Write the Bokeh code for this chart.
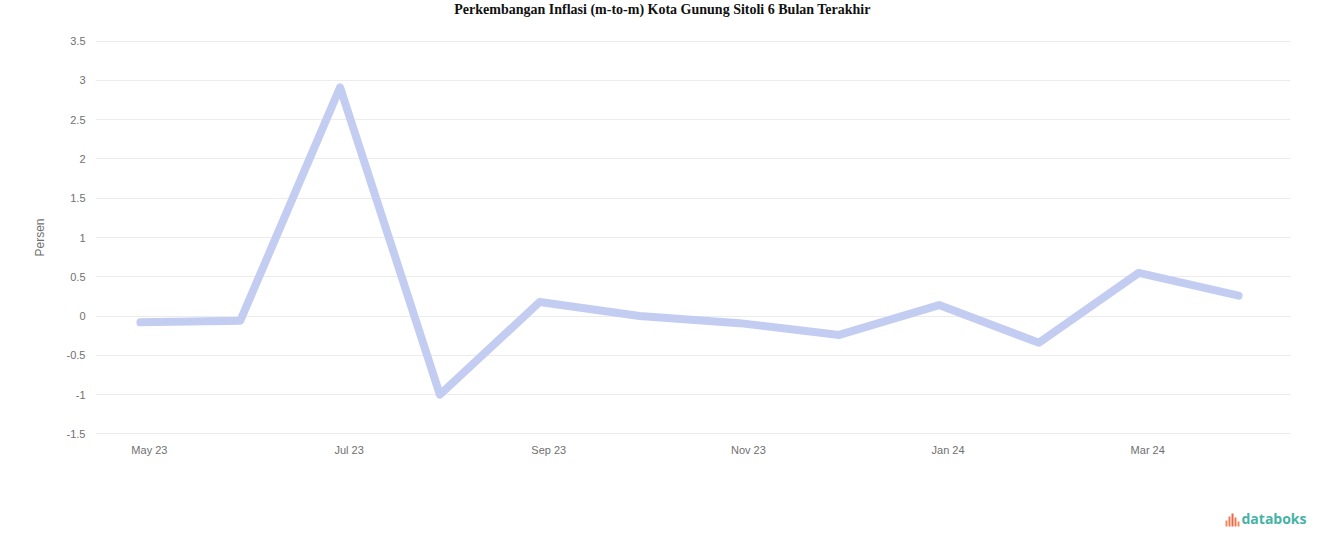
from bokeh.plotting import figure
from bokeh.layouts import column, row
from bokeh.models import FixedTicker, Range1d
from bokeh.core.properties import value
from bokeh.embed import file_html
from bokeh.resources import INLINE

title_text = "Perkembangan Inflasi (m-to-m) Kota Gunung Sitoli 6 Bulan Terakhir"
months = ["May 23", "Jun 23", "Jul 23", "Aug 23", "Sep 23", "Oct 23",
          "Nov 23", "Dec 23", "Jan 24", "Feb 24", "Mar 24", "Apr 24"]
inflasi = [-0.08, -0.06, 2.91, -1.0, 0.18, 0.0, -0.09, -0.24, 0.14, -0.34, 0.55, 0.26]
y_ticks = [-1.5, -1.0, -0.5, 0.0, 0.5, 1.0, 1.5, 2.0, 2.5, 3.0, 3.5]
y_tick_labels = ["-1.5", "-1", "-0.5", "0", "0.5", "1", "1.5", "2", "2.5", "3", "3.5"]
y_title = "Persen"
brand = "databoks"

W = 1308
H_TOP, H_MAIN, H_BOT = 20, 480, 31


def blank(h):
    f = figure(width=W, height=h, output_backend="svg", toolbar_location=None,
               x_range=Range1d(0, W), y_range=Range1d(0, h),
               min_border_left=0, min_border_right=0, min_border_top=0, min_border_bottom=0)
    f.axis.visible = False
    f.grid.visible = False
    f.outline_line_color = None
    f.border_fill_color = "white"
    f.background_fill_color = "white"
    return f


# title strip
top = blank(H_TOP)
top.text(x=[662], y=[H_TOP - 9], text=[title_text], text_align="center", text_baseline="middle",
         text_font=value("Liberation Serif"), text_font_style="bold",
         text_font_size="14px", text_color="#111111")

# main chart
p = figure(width=W, height=H_MAIN, output_backend="svg", toolbar_location=None,
           x_range=Range1d(-0.45, 11.52), y_range=Range1d(-1.52, 3.52),
           min_border_left=95, min_border_right=18, min_border_top=19, min_border_bottom=65)
p.outline_line_color = None
p.background_fill_color = "white"
p.border_fill_color = "white"

xs = list(range(len(months)))
p.line(xs, inflasi, line_color="#c3cdf2", line_width=8, line_join="round", line_cap="round")

# category labels sit slightly right of their points, as in the reference
label_shift = 0.09
tick_pos = [i + label_shift for i in xs[::2]]
p.xaxis.ticker = FixedTicker(ticks=tick_pos)
p.xaxis.major_label_overrides = {t: months[i] for t, i in zip(tick_pos, xs[::2])}
p.yaxis.ticker = FixedTicker(ticks=y_ticks)
p.yaxis.major_label_overrides = {t: l for t, l in zip(y_ticks, y_tick_labels)}
for ax in (p.xaxis[0], p.yaxis[0]):
    ax.axis_line_color = None
    ax.major_tick_line_color = None
    ax.minor_tick_line_color = None
    ax.major_label_text_font = "Liberation Sans"
    ax.major_label_text_font_size = "11px"
    ax.major_label_text_color = "#707070"
p.xaxis.major_label_standoff = 2
p.yaxis.major_label_standoff = 4
p.yaxis.axis_label = y_title
p.yaxis.axis_label_text_font = "Liberation Sans"
p.yaxis.axis_label_text_font_style = "normal"
p.yaxis.axis_label_text_font_size = "12px"
p.yaxis.axis_label_text_color = "#707070"
p.yaxis.axis_label_standoff = 17

p.xgrid.grid_line_color = None
p.ygrid.grid_line_color = "#ececec"
p.ygrid.grid_line_width = 1

# logo strip
bot = blank(H_BOT)
bot.text(x=[1306], y=[H_BOT - 18], text=[brand], text_align="right", text_baseline="middle",
         text_font=value("Open Sans"), text_font_style="bold",
         text_font_size="14px", text_color="#45b3a5")
bar_left = [1225, 1228, 1231, 1234, 1237]
bar_h = [6, 10, 13, 9, 5]
bar_col = ["#f28c5a", "#ee7a52", "#e9654a", "#ee7a52", "#f28c5a"]
bot.quad(left=bar_left, right=[b + 2 for b in bar_left],
         bottom=[H_BOT - 26] * 5, top=[H_BOT - 26 + h for h in bar_h],
         fill_color=bar_col, line_color=None)

layout = column(row(top), p, row(bot), spacing=0)
open("out.html", "w").write(file_html(layout, INLINE))
